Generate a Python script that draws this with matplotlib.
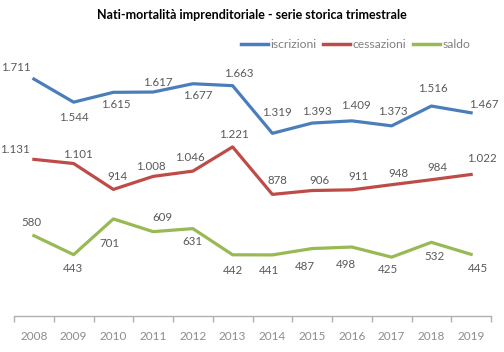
import matplotlib.pyplot as plt
import numpy as np

anni = ["2008", "2009", "2010", "2011", "2012", "2013",
        "2014", "2015", "2016", "2017", "2018", "2019"]
iscrizioni = [1711, 1544, 1615, 1617, 1677, 1663, 1319, 1393, 1409, 1373, 1516, 1467]
cessazioni = [1131, 1101, 914, 1008, 1046, 1221, 878, 906, 911, 948, 984, 1022]
saldo = [580, 443, 701, 609, 631, 442, 441, 487, 498, 425, 532, 445]

# label offsets in pixels (dx, dy up)
off_isc = [(-18, 12), (0, -15), (2, -12), (5, 10), (5, -12), (6, 12),
           (5, 21), (5, 12), (4, 15), (1, 14), (1, 18), (13, 8)]
off_ces = [(-19, 10), (4, 9), (4, 13), (-2, 10), (-3, 14), (1, 12),
           (5, 14), (7, 10), (7, 13), (7, 11), (6, 12), (11, 16)]
off_sal = [(-2, 13), (-1, -14), (-4, -25), (9, 14), (0, -13), (0, -16),
           (-3, -16), (-7, -18), (-6, -17), (-4, -12), (3, -14), (7, -14)]

plt.rcParams["font.family"] = ["Lato", "DejaVu Sans"]

fig = plt.figure(figsize=(5.04, 3.52), dpi=100)
ax = fig.add_axes([14 / 504, 1 - 316 / 352, 477 / 504, 277 / 352])

x = np.arange(len(anni))
series = [
    ("iscrizioni", iscrizioni, "#4a7ebb", off_isc),
    ("cessazioni", cessazioni, "#be4b48", off_ces),
    ("saldo", saldo, "#98b954", off_sal),
]
for name, vals, col, offs in series:
    ax.plot(x, vals, color=col, linewidth=2.3, label=name, solid_joinstyle="round")
    for xi, v, (dx, dy) in zip(x, vals, offs):
        txt = f"{v:,}".replace(",", ".")
        ax.annotate(txt, (xi, v), xytext=(dx * 0.72, dy * 0.72), textcoords="offset points",
                    ha="center", va="center", fontsize=8.3, color="#595959")

ax.set_xlim(-0.5, len(anni) - 0.5)
ax.set_ylim(0, 2000)
ax.set_yticks([])
for s in ["top", "right", "left"]:
    ax.spines[s].set_visible(False)
ax.spines["bottom"].set_color("#b0b0b0")
ax.spines["bottom"].set_linewidth(1.0)

ax.set_xticks(np.arange(-0.5, len(anni), 1.0))
ax.set_xticklabels([])
ax.tick_params(axis="x", which="major", length=4, color="#b0b0b0", width=1.0)
ax.set_xticks(x, minor=True)
ax.set_xticklabels(anni, minor=True)
ax.tick_params(axis="x", which="minor", length=0, pad=11, labelsize=8.5, labelcolor="#8c8c8c")

fig.text(0.5, 1 - 15 / 352, "Nati-mortalità imprenditoriale - serie storica trimestrale",
         ha="center", va="center", fontsize=9, fontweight="bold", color="#000000")

leg = fig.legend(loc="center right", bbox_to_anchor=(481 / 504, 1 - 45 / 352), ncol=3,
                 frameon=False, fontsize=8.7, handlelength=2.2, handletextpad=0.2,
                 columnspacing=0.6, labelcolor="#7f7f7f")
for line in leg.get_lines():
    line.set_linewidth(2.5)

fig.savefig("out.png", dpi=100)
